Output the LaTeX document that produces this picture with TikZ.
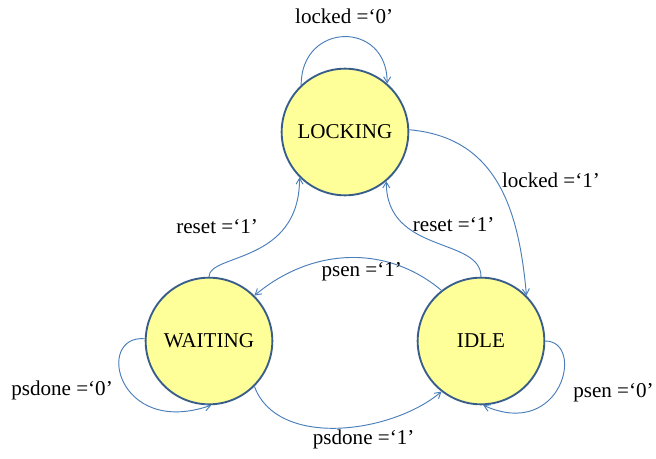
\documentclass[tikz,border=0pt]{standalone}
\usepackage{fontspec}
\setmainfont{Liberation Serif}
\usetikzlibrary{positioning, arrows.meta}

\definecolor{statefill}{RGB}{255,255,153}
\definecolor{stateline}{RGB}{56,93,138}
\definecolor{transline}{RGB}{74,126,187}

\begin{document}
\begin{tikzpicture}[on grid, >={Straight Barb[length=5pt,width=6pt]},
    font=\fontsize{18}{21}\selectfont,
    fsmstate/.style={circle, draw=stateline, line width=1.6pt, fill=statefill, minimum size=3.8cm, inner sep=0pt},
    trans/.style={->, draw=transline, line width=0.8pt}]
    \useasboundingbox (-10.35,-9.81) rectangle (9.33,3.96);

    \node[fsmstate] (locking) {LOCKING};
    \node[fsmstate, below left=6.27cm and 4.08cm of locking] (waiting) {WAITING};
    \node[fsmstate, below right=6.27cm and 4.08cm of locking] (idle) {IDLE};

    % self loops
    \draw[trans] (locking.133) to[out=90, in=90, distance=1.9cm]
        node[above, yshift=0.27cm] {locked =‘0’} (locking.49);
    \draw[trans] (waiting.178) to[out=175, in=199, out distance=1.5cm, in distance=3cm]
        node[left, pos=0.5, xshift=-0.2cm, yshift=-0.25cm] {psdone =‘0’} (waiting.272);
    \draw[trans] (idle.0) to[out=0, in=-24, out distance=1.2cm, in distance=2.6cm]
        node[right, pos=0.5, xshift=0.3cm, yshift=-0.2cm] {psen =‘0’} (idle.-88);

    % between the states
    \draw[trans] (locking.2) to[out=-5, in=95, looseness=1.1]
        node[right, pos=0.5, yshift=0.08cm] {locked =‘1’} (idle.45);
    \draw[trans] (idle.90) to[out=90, in=-90, out distance=1.2cm, in distance=2.2cm]
        node[above, pos=0.5, xshift=0.6cm, yshift=0.17cm] {reset =‘1’} (locking.-50);
    \draw[trans] (waiting.90) to[out=90, in=-90, out distance=0.7cm, in distance=2.6cm]
        node[above left, pos=0.5, xshift=0.24cm, yshift=0.38cm] {reset =‘1’} (locking.-135);
    \draw[trans] (idle.128) to[out=140, in=40]
        node[below, pos=0.45, xshift=0.12cm] {psen =‘1’} (waiting.45);
    \draw[trans] (waiting.-45) to[out=-70, in=-140, looseness=0.9]
        node[below, pos=0.6, xshift=0.1cm] {psdone =‘1’} (idle.-128);
\end{tikzpicture}
\end{document}
